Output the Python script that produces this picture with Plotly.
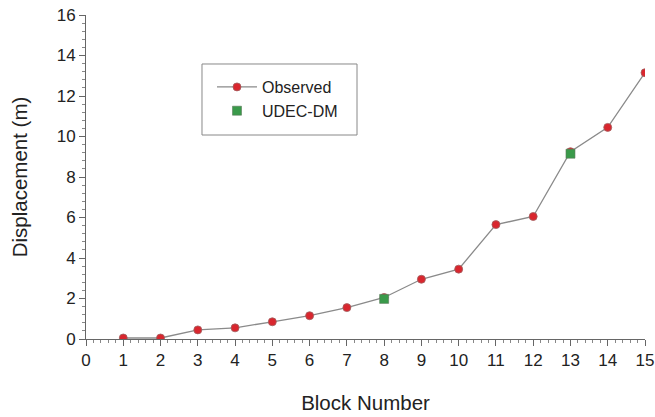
import plotly.graph_objects as go

blocks = list(range(1, 16))
observed = [0.05, 0.05, 0.45, 0.55, 0.85, 1.15, 1.55, 2.05, 2.95, 3.45, 5.65, 6.05, 9.25, 10.45, 13.15]
udec_blocks = [8, 13]
udec_values = [1.98, 9.15]

x_ticks = list(range(0, 16))
y_ticks = list(range(0, 17, 2))

FONT = "Liberation Sans, Arial, sans-serif"

fig = go.Figure()
fig.add_trace(go.Scatter(
    x=blocks, y=observed, mode="lines+markers", name="Observed",
    line=dict(color="#8a8a8a", width=1.3),
    marker=dict(symbol="circle", size=8, color="#d9262e", line=dict(color="#a06060", width=0.8)),
))
fig.add_trace(go.Scatter(
    x=udec_blocks, y=udec_values, mode="markers", name="UDEC-DM",
    marker=dict(symbol="square", size=9, color="#3a9a4a", line=dict(color="#5a7a5a", width=0.6)),
))

axis_common = dict(
    showgrid=False, zeroline=False, showline=True, linecolor="#666666", linewidth=1,
    ticks="outside", ticklen=6, tickcolor="#666666", tickwidth=1,
    tickfont=dict(family=FONT, size=17, color="#222222"),
    title_font=dict(family=FONT, size=20.5, color="#222222"),
    ticklabeloverflow="allow",
)

fig.update_xaxes(
    range=[0, 15], tickmode="array", tickvals=x_ticks, ticktext=[str(v) for v in x_ticks],
    minor=dict(dtick=0.2, ticks="outside", ticklen=3, tickcolor="#888888"),
    title_text="Block Number", title_standoff=26, **axis_common,
)
fig.update_yaxes(
    range=[0, 16], tickmode="array", tickvals=y_ticks, ticktext=[str(v) for v in y_ticks],
    minor=dict(dtick=0.4, ticks="outside", ticklen=3, tickcolor="#888888"),
    title_text="Displacement (m)", title_standoff=23, **axis_common,
)

# legend frame drawn as a paper-referenced box
fig.add_shape(
    type="rect", xref="paper", yref="paper",
    x0=0.2075, x1=0.4848, y0=0.6296, y1=0.8488,
    line=dict(color="#888888", width=1), fillcolor="rgba(0,0,0,0)", layer="above",
)

fig.update_layout(
    width=655, height=417,
    margin=dict(l=86, r=10, t=15, b=78, autoexpand=False),
    plot_bgcolor="white", paper_bgcolor="white",
    legend=dict(
        x=0.2254, y=0.8302, xanchor="left", yanchor="top",
        borderwidth=0, bgcolor="rgba(0,0,0,0)",
        font=dict(family=FONT, size=16, color="#222222"),
        tracegroupgap=0, itemwidth=40,
    ),
)

fig.write_html(
    "out.html",
    config={"displayModeBar": False},
    post_script="document.body.style.margin='0';document.body.style.overflow='hidden';",
)
